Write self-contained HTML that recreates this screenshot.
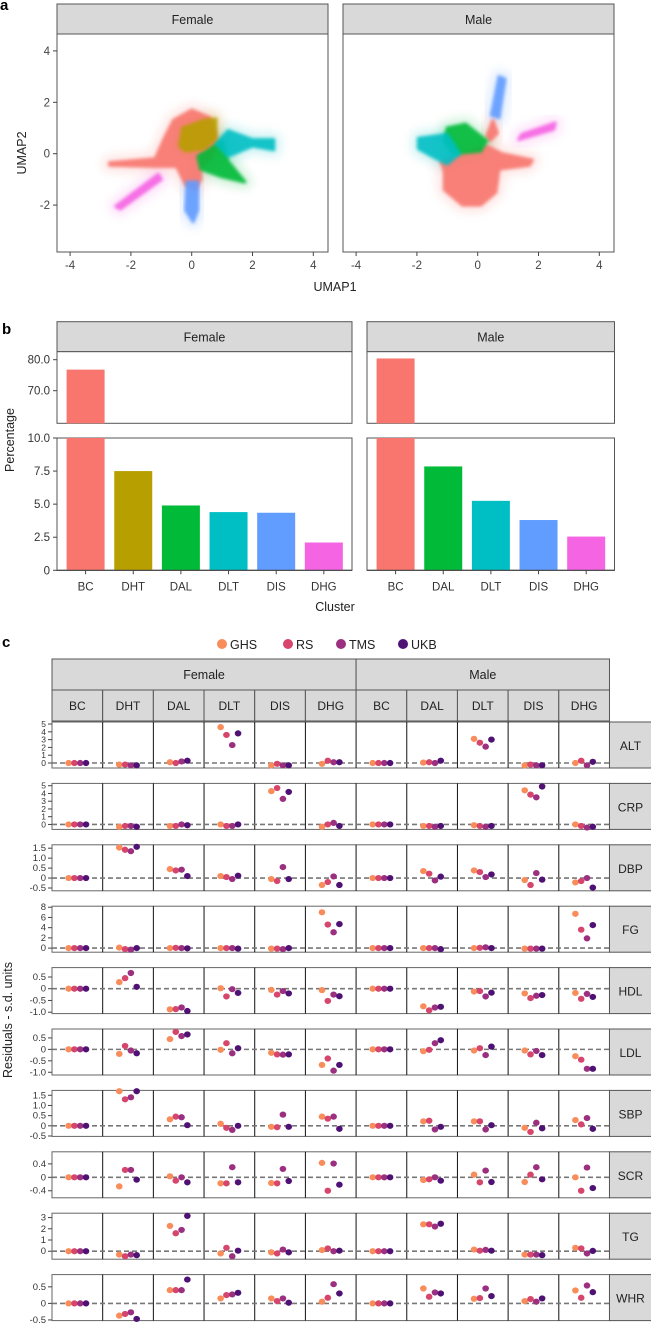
<!DOCTYPE html>
<html><head><meta charset="utf-8">
<style>
html,body{margin:0;padding:0;background:#fff;}
svg{display:block;font-family:"Liberation Sans",sans-serif;}
</style></head>
<body>
<svg id="fig" xmlns="http://www.w3.org/2000/svg" width="651" height="1324" viewBox="0 0 651 1324">
<defs>
<filter id="blur1" x="-20%" y="-20%" width="140%" height="140%"><feGaussianBlur stdDeviation="1.6"/></filter>
<filter id="blur4" x="-50%" y="-50%" width="200%" height="200%"><feGaussianBlur stdDeviation="5"/></filter>
</defs>
</svg>
<script>
// ---------- DATA ----------
const clusterColors = {BC:'#F8766D',DHT:'#B79F00',DAL:'#00BA38',DLT:'#00BFC4',DIS:'#619CFF',DHG:'#F564E3'};
// panel b
const femaleClusters = ['BC','DHT','DAL','DLT','DIS','DHG'];
const femalePct = [76.8, 7.5, 4.9, 4.4, 4.35, 2.1];
const maleClusters = ['BC','DAL','DLT','DIS','DHG'];
const malePct = [80.4, 7.85, 5.25, 3.8, 2.55];
const upperTicks = [70, 80];
const lowerTicks = [0, 2.5, 5, 7.5, 10];
const lowerTickLabels = ['0','2.5','5.0','7.5','10.0'];
const upperTickLabels = ['70.0','80.0'];
// panel a cluster outlines (UMAP coords)
const femaleShapes = [
 ['BC', [[-2.7,-0.35],[-1.2,-0.2],[-0.9,0.6],[-0.6,1.3],[0,1.7],[0.6,1.4],[0.8,0.6],[0.7,-0.1],[0.3,-0.5],[0.3,-1.0],[0.1,-1.4],[-0.2,-1.2],[-0.5,-0.5],[-1.2,-0.5],[-2.7,-0.45]]],
 ['DAL',[[0.2,-0.1],[1.0,0.5],[1.2,-0.3],[1.75,-1.1],[1.0,-0.9],[0.3,-0.6]]],
 ['DLT',[[0.8,0.4],[1.2,0.9],[2.0,0.55],[2.7,0.55],[2.7,0.15],[2.0,0.3],[1.2,-0.1]]],
 ['DHT',[[-0.4,0.3],[-0.3,1.0],[0.4,1.3],[0.8,1.35],[0.8,0.6],[0.4,0.2],[-0.2,0.1]]],
 ['DIS',[[-0.15,-1.1],[0.2,-1.1],[0.2,-2.2],[0.05,-2.65],[-0.2,-2.2]]],
 ['DHG',[[-2.5,-2.05],[-1.1,-0.8],[-1.0,-1.0],[-2.35,-2.15]]]
];
const maleShapes = [
 ['BC', [[-1.2,-0.3],[-0.5,0.0],[0.3,0.3],[0.8,0.0],[1.8,-0.25],[1.7,-0.45],[0.7,-0.6],[0.6,-1.5],[0.1,-2.0],[-0.5,-2.0],[-1.1,-1.4],[-1.1,-0.7]]],
 ['BC', [[0.3,0.7],[0.5,1.3],[0.65,0.8],[0.4,0.5]]],
 ['DAL',[[-1.0,1.0],[-0.4,1.15],[0.3,0.5],[0.1,0.1],[-0.8,0.0],[-1.1,0.5]]],
 ['DLT',[[-1.95,0.6],[-1.0,0.75],[-0.6,0.0],[-1.0,-0.4],[-1.5,-0.1],[-1.95,0.2]]],
 ['DIS',[[0.45,1.5],[0.7,1.4],[0.9,2.9],[0.7,3.0]]],
 ['DHG',[[1.35,0.55],[2.5,0.95],[2.55,1.2],[1.45,0.75]]]
];
// panel c
const traits = ['ALT','CRP','DBP','FG','HDL','LDL','SBP','SCR','TG','WHR'];
const cohorts = ['GHS','RS','TMS','UKB'];
const cohortColors = ['#F98C5B','#D6456C','#9B2F80','#4F1274'];
const colClusters = ['BC','DHT','DAL','DLT','DIS','DHG','BC','DAL','DLT','DIS','DHG'];
const colSex = ['Female','Female','Female','Female','Female','Female','Male','Male','Male','Male','Male'];
const ALT = [[0,0,0,0],[-0.2,-0.2,-0.3,-0.3],[0.1,0,0.2,0.3],[4.6,3.6,2.3,3.8],[-0.3,-0.1,-0.3,-0.3],[-0.1,0.3,0.1,0.1],[0,0,0,0],[0.05,0.1,0,0.3],[3.1,2.6,2.1,3.0],[-0.3,-0.2,-0.3,-0.3],[0,0.3,-0.3,0.15]];
const CRP = [[0,0,0,0],[-0.3,-0.2,-0.2,-0.3],[-0.2,-0.2,0,-0.1],[0,-0.2,-0.2,0],[4.3,4.7,3.3,4.2],[-0.3,0,0.2,-0.2],[0,0,0,0],[-0.2,-0.2,-0.3,-0.2],[-0.1,-0.2,-0.3,-0.2],[4.4,3.85,3.5,4.9],[0,-0.2,-0.4,-0.3]];
const DBP = [[0,0,0,0],[1.53,1.42,1.35,1.57],[0.45,0.38,0.42,0.1],[0.1,0.05,-0.05,0.12],[-0.05,-0.15,0.55,-0.05],[-0.35,-0.2,0.08,-0.35],[0,0,0,0],[0.35,0.22,-0.12,0.07],[0.38,0.3,0.05,0.18],[-0.1,-0.35,0.25,-0.08],[-0.22,-0.15,0,-0.48]];
const FG = [[0,0,0,0],[0.1,-0.2,-0.3,0],[0,0.05,0,-0.05],[0,0,0,-0.1],[-0.1,-0.1,-0.2,0],[7.0,4.6,3.1,4.7],[0,0,0,0],[0,0,0,-0.2],[0,0.05,0.15,0],[-0.1,-0.1,-0.1,-0.1],[6.7,3.6,1.9,4.5]];
const HDL = [[0,0,0,0],[0.28,0.45,0.67,0.08],[-0.88,-0.87,-0.8,-0.95],[0.02,-0.33,-0.02,-0.18],[-0.05,-0.25,-0.1,-0.2],[-0.06,-0.52,-0.25,-0.32],[0,0,0,0],[-0.75,-0.92,-0.8,-0.77],[-0.12,-0.1,-0.33,-0.17],[-0.2,-0.4,-0.3,-0.27],[-0.18,-0.43,-0.22,-0.35]];
const LDL = [[0,0,0,0],[-0.2,0.15,-0.05,-0.17],[0.45,0.76,0.58,0.65],[-0.02,0.27,-0.17,0.05],[-0.15,-0.22,-0.23,-0.22],[-0.68,-0.4,-0.93,-0.68],[0,0,0,0],[-0.08,-0.02,0.27,0.4],[-0.05,0.05,-0.25,0.12],[-0.05,-0.22,-0.07,-0.25],[-0.3,-0.45,-0.85,-0.85]];
const SBP = [[0,0,0,0],[1.7,1.3,1.4,1.7],[0.32,0.45,0.42,0.03],[0.1,-0.1,-0.2,0],[-0.05,-0.07,0.55,-0.05],[0.45,0.35,0.45,-0.15],[0,0,0,0],[0.22,0.25,-0.18,-0.05],[0.22,0.22,-0.18,0.03],[-0.1,-0.3,0.15,-0.12],[0.28,0.07,0.38,-0.15]];
const SCR = [[0,0,0,0],[-0.27,0.22,0.22,-0.07],[0.03,-0.1,0,-0.15],[-0.18,-0.18,0.3,-0.15],[-0.17,-0.18,0.25,-0.11],[0.43,-0.4,0.41,-0.22],[0,0,0,0],[-0.08,-0.06,0,-0.1],[0.08,-0.15,0.2,-0.14],[-0.14,0.08,0.3,-0.06],[0,-0.4,0.29,-0.32]];
const TG = [[0,0,0,0],[-0.3,-0.45,-0.3,-0.35],[2.25,1.6,1.9,3.15],[-0.2,0.3,-0.45,0.05],[-0.1,-0.2,0.15,-0.1],[0.1,0.25,0,0.05],[0,0,0,0],[2.4,2.4,2.2,2.45],[0.15,0.05,0.12,0.05],[-0.3,-0.3,-0.3,-0.35],[0.3,0.25,-0.2,0.03]];
const WHR = [[0,0,0,0],[-0.37,-0.32,-0.27,-0.47],[0.4,0.4,0.4,0.72],[0.15,0.25,0.27,0.32],[0.15,0.07,0.15,0.02],[0.05,0.17,0.58,0.3],[0,0,0,0],[0.45,0.2,0.33,0.3],[0.14,0.16,0.45,0.22],[0.07,0.13,0.05,0.15],[0.39,0.17,0.54,0.34]];
const traitValues = [ALT,CRP,DBP,FG,HDL,LDL,SBP,SCR,TG,WHR];
const traitRanges = [[-0.64,5.26],[-0.64,5.3],[-0.64,1.67],[-0.8,8.2],[-1.06,0.9],[-1.12,0.89],[-0.52,1.74],[-0.61,0.76],[-0.71,3.39],[-0.52,0.87]];
const traitTicks = [[0,1,2,3,4,5],[0,1,2,3,4,5],[-0.5,0,0.5,1,1.5],[0,2,4,6,8],[-1,-0.5,0,0.5],[-1,-0.5,0,0.5],[-0.5,0,0.5,1,1.5],[-0.4,0,0.4],[0,1,2,3],[-0.5,0,0.5]];

// ---------- HELPERS ----------
const NS='http://www.w3.org/2000/svg';
const svg=document.getElementById('fig');
function mk(tag,attrs,parent){const e=document.createElementNS(NS,tag);for(const k in attrs)e.setAttribute(k,attrs[k]);(parent||svg).appendChild(e);return e;}
function nm(e,n){
 
 
 return e;}
function txt(x,y,s,opts,name){const t=mk('text',Object.assign({x:x,y:y,'font-size':12,fill:'#222'},opts||{}));t.textContent=s;nm(t,name);return t;}
function fmt(v){if(v===0)return '0';return (Math.abs(v)<1&&!Number.isInteger(v))?v.toFixed(1):(Number.isInteger(v)&&Math.abs(v)>=1&&v!==Math.round(v)?v:String(v));}

// ---------- PANEL A ----------
txt(0,10,'a',{'font-size':15,'font-weight':'bold',fill:'#000'},'panel-a-label');
const aPanels=[{sex:'Female',x0:57,x1:328,shapes:femaleShapes},{sex:'Male',x0:343,x1:614,shapes:maleShapes}];
const aTop=34,aBot=252,aZeroY=153.7,aUnitY=25.7,aUnitX=30.4;
aPanels.forEach((p,pi)=>{
 const zx=p.x0+(p.x1-p.x0)/2 - 0.5 + (pi===0?0.2:0);
 const sx=u=>p.x0+134.7+u*aUnitX;
 const sy=v=>aZeroY-v*aUnitY;
 nm(mk('rect',{x:p.x0,y:4,width:p.x1-p.x0,height:30,fill:'#d9d9d9',stroke:'#555','stroke-width':1}),'umap-strip-'+p.sex.toLowerCase());
 txt((p.x0+p.x1)/2,24,p.sex,{'text-anchor':'middle','font-size':12.5},'umap-strip-label-'+p.sex.toLowerCase());
 nm(mk('rect',{x:p.x0,y:aTop,width:p.x1-p.x0,height:aBot-aTop,fill:'#fff',stroke:'#555','stroke-width':1}),'umap-panel-'+p.sex.toLowerCase());
 const g=mk('g',{});
 nm(g,'umap-scatter-'+p.sex.toLowerCase());
 p.shapes.forEach(s=>{
  const pts=s[1].map(q=>sx(q[0]).toFixed(1)+','+sy(q[1]).toFixed(1)).join(' ');
  nm(mk('polygon',{points:pts,fill:clusterColors[s[0]],stroke:clusterColors[s[0]],'stroke-width':14,'stroke-linejoin':'round',opacity:0.18,filter:'url(#blur4)'},g),'umap-halo-'+s[0]);
 });
 p.shapes.forEach(s=>{
  const pts=s[1].map(q=>sx(q[0]).toFixed(1)+','+sy(q[1]).toFixed(1)).join(' ');
  nm(mk('polygon',{points:pts,fill:clusterColors[s[0]],stroke:clusterColors[s[0]],'stroke-width':3,'stroke-linejoin':'round',opacity:0.9,filter:'url(#blur1)'},g),'umap-cluster-'+s[0]);
 });
 [-4,-2,0,2,4].forEach(t=>{
  nm(mk('line',{x1:sx(t),x2:sx(t),y1:aBot,y2:aBot+4,stroke:'#444'}),'umap-x-tick');
  txt(sx(t),aBot+17,String(t),{'text-anchor':'middle','font-size':11.5,fill:'#444'},'umap-x-tick-label');
 });
 if(pi===0){[-2,0,2,4].forEach(t=>{
  nm(mk('line',{x1:p.x0-4,x2:p.x0,y1:sy(t),y2:sy(t),stroke:'#444'}),'umap-y-tick');
  txt(p.x0-7,sy(t)+4,String(t),{'text-anchor':'end','font-size':11.5,fill:'#444'},'umap-y-tick-label');
 });}
});
txt(335,291,'UMAP1',{'text-anchor':'middle','font-size':12.5},'umap-x-axis-title');
txt(0,0,'UMAP2',{'text-anchor':'middle','font-size':12.5,transform:'translate(26,153) rotate(-90)'},'umap-y-axis-title');

// ---------- PANEL B ----------
txt(2,334,'b',{'font-size':15,'font-weight':'bold',fill:'#000'},'panel-b-label');
const bStripTop=321.7,bStripBot=351.7,upBot=423.3,loTop=438,loBot=570.3;
const upY=v=>359.7-(v-80)*3.1;
const loY=v=>loBot-v*(loBot-loTop)/10;
const pitch=47.65,barW=38;
const bPanels=[{sex:'Female',x0:57,x1:352,cats:femaleClusters,vals:femalePct},{sex:'Male',x0:367,x1:614.5,cats:maleClusters,vals:malePct}];
bPanels.forEach((p,pi)=>{
 const s=p.sex.toLowerCase();
 nm(mk('rect',{x:p.x0,y:bStripTop,width:p.x1-p.x0,height:bStripBot-bStripTop,fill:'#d9d9d9',stroke:'#555'}),'bar-strip-'+s);
 txt((p.x0+p.x1)/2,bStripTop+20,p.sex,{'text-anchor':'middle','font-size':12.5},'bar-strip-label-'+s);
 nm(mk('rect',{x:p.x0,y:bStripBot,width:p.x1-p.x0,height:upBot-bStripBot,fill:'#fff',stroke:'#555'}),'bar-upper-panel-'+s);
 nm(mk('rect',{x:p.x0,y:loTop,width:p.x1-p.x0,height:loBot-loTop,fill:'#fff',stroke:'#555'}),'bar-lower-panel-'+s);
 p.cats.forEach((c,i)=>{
  const cx=p.x0+pitch*(0.6+i);
  const v=p.vals[i];
  const topLo=loY(Math.min(v,10));
  nm(mk('rect',{x:cx-barW/2,y:topLo,width:barW,height:loBot-topLo,fill:clusterColors[c]}),'bar-'+s+'-'+c);
  if(v>10){const tu=upY(v);nm(mk('rect',{x:cx-barW/2,y:tu,width:barW,height:upBot-tu,fill:clusterColors[c]}),'bar-upper-'+s+'-'+c);}
  nm(mk('line',{x1:cx,x2:cx,y1:loBot,y2:loBot+4,stroke:'#444'}),'bar-x-tick');
  txt(cx,loBot+20,c,{'text-anchor':'middle','font-size':11.5,fill:'#333'},'bar-x-tick-label');
 });
 nm(mk('line',{x1:p.x0,x2:p.x1,y1:loBot,y2:loBot,stroke:'#444','stroke-width':1.2}),'bar-x-axis-line');
 if(pi===0){
  upperTicks.forEach((t,i)=>{nm(mk('line',{x1:p.x0-4,x2:p.x0,y1:upY(t),y2:upY(t),stroke:'#444'}),'bar-y-tick');
   txt(p.x0-7,upY(t)+4,upperTickLabels[i],{'text-anchor':'end','font-size':11.5,fill:'#333'},'bar-y-tick-label');});
  lowerTicks.forEach((t,i)=>{nm(mk('line',{x1:p.x0-4,x2:p.x0,y1:loY(t),y2:loY(t),stroke:'#444'}),'bar-y-tick');
   txt(p.x0-7,loY(t)+4,lowerTickLabels[i],{'text-anchor':'end','font-size':11.5,fill:'#333'},'bar-y-tick-label');});
 }
});
txt(335,611,'Cluster',{'text-anchor':'middle','font-size':12.5},'bar-x-axis-title');
txt(0,0,'Percentage',{'text-anchor':'middle','font-size':12.5,transform:'translate(14,440) rotate(-90)'},'bar-y-axis-title');

// ---------- PANEL C ----------
txt(2,647,'c',{'font-size':15,'font-weight':'bold',fill:'#000'},'panel-c-label');
const legX=[222,288,341,403];
cohorts.forEach((c,i)=>{
 nm(mk('circle',{cx:legX[i],cy:644,r:5,fill:cohortColors[i]}),'legend-dot-'+c);
 txt(legX[i]+8,649,c,{'font-size':12.5},'legend-label-'+c);
});
const cX0=52,colW=50.68,rowTop0=722,rowPitch=61.4,rowH=46,cRight=cX0+colW*11;
// header strips
nm(mk('rect',{x:cX0,y:659,width:colW*6,height:31,fill:'#d9d9d9',stroke:'#555'}),'strip-female');
txt(cX0+colW*3,679,'Female',{'text-anchor':'middle','font-size':12.5},'strip-female-label');
nm(mk('rect',{x:cX0+colW*6,y:659,width:colW*5,height:31,fill:'#d9d9d9',stroke:'#555'}),'strip-male');
txt(cX0+colW*8.5,679,'Male',{'text-anchor':'middle','font-size':12.5},'strip-male-label');
colClusters.forEach((c,i)=>{
 nm(mk('rect',{x:cX0+colW*i,y:690,width:colW,height:31,fill:'#d9d9d9',stroke:'#555'}),'strip-col-'+colSex[i].toLowerCase()+'-'+c);
 txt(cX0+colW*(i+0.5),710,c,{'text-anchor':'middle','font-size':12},'strip-col-label-'+c);
});
traits.forEach((tr,r)=>{
 const top=rowTop0+r*rowPitch;
 const rng=traitRanges[r];
 const y=v=>top+rowH-(v-rng[0])/(rng[1]-rng[0])*rowH;
 nm(mk('rect',{x:cX0,y:top,width:cRight-cX0,height:rowH,fill:'#fff',stroke:'#666','stroke-width':1}),'row-panel-'+tr);
 for(let i=1;i<11;i++){nm(mk('line',{x1:cX0+colW*i,x2:cX0+colW*i,y1:top,y2:top+rowH,stroke:'#111','stroke-width':1}),'column-divider');}
 nm(mk('line',{x1:cX0,x2:cRight,y1:y(0),y2:y(0),stroke:'#777','stroke-width':1.6,'stroke-dasharray':'5,3'}),'zero-line-'+tr);
 nm(mk('rect',{x:cRight,y:top,width:46,height:rowH,fill:'#d9d9d9',stroke:'#555'}),'strip-row-'+tr);
 txt(cRight+21,top+rowH/2+5,tr,{'text-anchor':'middle','font-size':12},'strip-row-label-'+tr);
 const tks=traitTicks[r];
 const fs=tks.length>=6?8.5:9.5;
 tks.forEach(t=>{
  nm(mk('line',{x1:cX0-4,x2:cX0,y1:y(t),y2:y(t),stroke:'#444'}),'y-tick-'+tr);
  let lab=(t===0)?'0':(Number.isInteger(t)&&tr!=='DBP'&&tr!=='SBP'&&tr!=='HDL'&&tr!=='LDL'?String(t):t.toFixed(1));
  txt(cX0-6,y(t)+3,lab,{'text-anchor':'end','font-size':fs,fill:'#333'},'y-tick-label-'+tr);
 });
 const vals=traitValues[r];
 vals.forEach((arr,ci)=>{
  arr.forEach((v,k)=>{
   const cx=cX0+colW*ci+25.3+(k-1.5)*5.8;
   nm(mk('ellipse',{cx:cx,cy:y(v),rx:3.3,ry:3.1,fill:cohortColors[k]}),'point-'+tr+'-'+colSex[ci].toLowerCase()+'-'+colClusters[ci]+'-'+cohorts[k]);
  });
 });
});
txt(0,0,'Residuals - s.d. units',{'text-anchor':'middle','font-size':12.5,transform:'translate(12,1020) rotate(-90)'},'panel-c-y-axis-title');
</script>
</body></html>
